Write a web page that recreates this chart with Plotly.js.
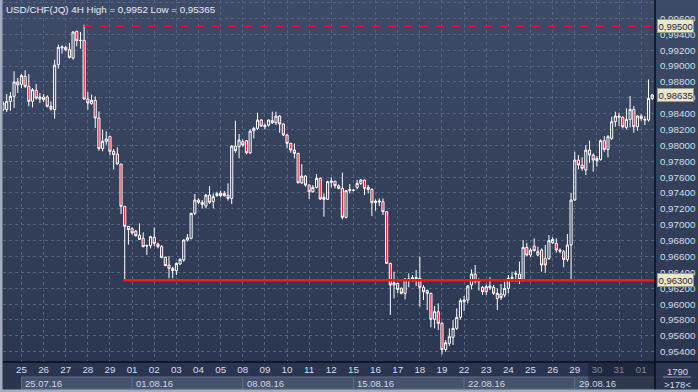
<!DOCTYPE html>
<html>
<head>
<meta charset="utf-8">
<script src="https://cdn.plot.ly/plotly-3.0.1.min.js"></script>
<style>
html,body{margin:0;padding:0;background:#2e3853;}
#chart{width:698px;height:392px;background:linear-gradient(to bottom,#3e4b68 0%,#344059 50%,#2a3450 100%);}
</style>
</head>
<body>
<div id="chart"></div>
<script>
// ---- data (USD/CHF 4H candles) ----
const opens = [0.98450,0.98450,0.98555,0.98618,0.98799,0.98770,0.98870,0.98744,0.98555,0.98694,0.98584,0.98610,0.98610,0.98492,0.98450,0.99017,0.99227,0.99235,0.99206,0.99101,0.99437,0.99319,0.99323,0.98584,0.98526,0.98568,0.98345,0.97959,0.98051,0.98114,0.97925,0.97891,0.97765,0.97232,0.96980,0.96951,0.96920,0.96870,0.96828,0.96731,0.96736,0.96841,0.96757,0.96723,0.96589,0.96492,0.96450,0.96421,0.96505,0.96555,0.96807,0.96828,0.97143,0.97311,0.97282,0.97235,0.97374,0.97290,0.97366,0.97395,0.97395,0.97374,0.97332,0.97991,0.97983,0.98046,0.98059,0.97907,0.98185,0.98214,0.98319,0.98235,0.98256,0.98285,0.98285,0.98369,0.98269,0.98130,0.98025,0.97941,0.97899,0.97529,0.97613,0.97500,0.97416,0.97471,0.97584,0.97345,0.97320,0.97534,0.97550,0.97492,0.97458,0.97093,0.97429,0.97437,0.97471,0.97521,0.97563,0.97471,0.97445,0.97277,0.97286,0.97290,0.97164,0.96513,0.96240,0.96261,0.96198,0.96135,0.96303,0.96316,0.96320,0.96324,0.96211,0.96169,0.96135,0.95807,0.95904,0.95757,0.95427,0.95505,0.95581,0.95694,0.95833,0.96030,0.96051,0.96240,0.96379,0.96282,0.96211,0.96156,0.96227,0.96211,0.96072,0.96127,0.96114,0.96198,0.96324,0.96374,0.96379,0.96303,0.96715,0.96618,0.96731,0.96618,0.96681,0.96576,0.96576,0.96773,0.96765,0.96681,0.96660,0.96563,0.96744,0.97311,0.97815,0.97752,0.97689,0.97941,0.97878,0.97836,0.97823,0.98059,0.97949,0.98088,0.98298,0.98353,0.98353,0.98227,0.98327,0.98453,0.98235,0.98369,0.98319,0.98319,0.98592];
const highs = [0.98555,0.98647,0.98673,0.98933,0.98849,0.98899,0.98946,0.98899,0.98723,0.98773,0.98660,0.98647,0.98631,0.98555,0.99080,0.99269,0.99261,0.99256,0.99290,0.99437,0.99445,0.99429,0.99520,0.98673,0.98639,0.98618,0.98429,0.98198,0.98177,0.98114,0.97954,0.97975,0.97765,0.97232,0.96980,0.96967,0.96933,0.97017,0.96904,0.96744,0.96862,0.96967,0.96773,0.96744,0.96597,0.96605,0.96471,0.96526,0.96576,0.96815,0.96883,0.97151,0.97387,0.97332,0.97311,0.97387,0.97487,0.97395,0.97416,0.97429,0.97425,0.97521,0.98004,0.98311,0.98143,0.98075,0.98067,0.98201,0.98235,0.98411,0.98332,0.98277,0.98327,0.98424,0.98424,0.98382,0.98277,0.98143,0.98033,0.98025,0.97907,0.97765,0.97626,0.97508,0.97500,0.97639,0.97597,0.97395,0.97555,0.97597,0.97550,0.97508,0.97655,0.97437,0.97513,0.97445,0.97563,0.97576,0.97571,0.97500,0.97458,0.97319,0.97332,0.97332,0.97172,0.96521,0.96408,0.96269,0.96211,0.96324,0.96387,0.96366,0.96429,0.96597,0.96240,0.96185,0.96143,0.95975,0.96009,0.95778,0.95547,0.95694,0.95799,0.95946,0.96072,0.96101,0.96240,0.96437,0.96492,0.96324,0.96227,0.96248,0.96337,0.96240,0.96198,0.96253,0.96282,0.96366,0.96408,0.96421,0.96534,0.96807,0.96773,0.96702,0.96828,0.96723,0.96702,0.96744,0.96870,0.96841,0.96828,0.96702,0.96681,0.96883,0.97403,0.97920,0.97878,0.97849,0.98004,0.98059,0.97899,0.97865,0.98075,0.98117,0.98130,0.98361,0.98424,0.98411,0.98369,0.98466,0.98621,0.98495,0.98382,0.98395,0.98369,0.98831,0.98647];
const lows = [0.98429,0.98421,0.98437,0.98471,0.98660,0.98720,0.98723,0.98492,0.98479,0.98576,0.98534,0.98547,0.98479,0.98437,0.98337,0.98967,0.99156,0.99185,0.99093,0.99080,0.99248,0.99219,0.98576,0.98450,0.98513,0.98219,0.97933,0.97925,0.98009,0.97875,0.97694,0.97757,0.97135,0.96300,0.96749,0.96875,0.96849,0.96807,0.96715,0.96618,0.96702,0.96731,0.96702,0.96576,0.96479,0.96324,0.96324,0.96366,0.96492,0.96534,0.96786,0.96815,0.97122,0.97261,0.97206,0.97206,0.97261,0.97206,0.97353,0.97345,0.97353,0.97303,0.97261,0.97907,0.97836,0.97983,0.97886,0.97891,0.98088,0.98193,0.98235,0.98201,0.98235,0.98269,0.98256,0.98159,0.98117,0.97962,0.97907,0.97836,0.97521,0.97513,0.97479,0.97324,0.97403,0.97458,0.97311,0.97101,0.97311,0.97471,0.97458,0.97445,0.97067,0.97080,0.97395,0.97420,0.97445,0.97500,0.97374,0.97395,0.97109,0.97177,0.97235,0.97122,0.96505,0.95862,0.96072,0.96135,0.96122,0.96059,0.96211,0.96282,0.96227,0.95967,0.96051,0.95925,0.95707,0.95694,0.95673,0.95365,0.95400,0.95471,0.95484,0.95673,0.95807,0.95912,0.96009,0.96185,0.96261,0.96169,0.96114,0.96114,0.96177,0.96114,0.95925,0.96051,0.96085,0.96135,0.96282,0.96282,0.96253,0.96282,0.96605,0.96589,0.96660,0.96605,0.96408,0.96395,0.96555,0.96757,0.96647,0.96639,0.96463,0.96534,0.96300,0.97303,0.97697,0.97681,0.97626,0.97781,0.97668,0.97731,0.97807,0.97920,0.97849,0.98067,0.98235,0.98243,0.98214,0.98201,0.98227,0.98159,0.98185,0.98311,0.98256,0.98298,0.98571];
const closes = [0.98534,0.98555,0.98618,0.98799,0.98760,0.98878,0.98744,0.98555,0.98702,0.98597,0.98610,0.98576,0.98492,0.98458,0.99009,0.99235,0.99240,0.99206,0.99109,0.99429,0.99319,0.99323,0.98584,0.98534,0.98568,0.98345,0.97959,0.98051,0.98080,0.97925,0.97883,0.97765,0.97232,0.96980,0.96938,0.96896,0.96862,0.96815,0.96723,0.96740,0.96849,0.96765,0.96723,0.96589,0.96484,0.96450,0.96421,0.96513,0.96563,0.96807,0.96836,0.97143,0.97311,0.97282,0.97256,0.97374,0.97282,0.97353,0.97391,0.97366,0.97366,0.97332,0.97991,0.97933,0.98067,0.98004,0.97907,0.98180,0.98214,0.98319,0.98243,0.98252,0.98319,0.98311,0.98369,0.98269,0.98130,0.98025,0.97941,0.97899,0.97529,0.97613,0.97500,0.97416,0.97471,0.97584,0.97324,0.97320,0.97542,0.97550,0.97492,0.97458,0.97093,0.97429,0.97445,0.97433,0.97521,0.97563,0.97458,0.97445,0.97277,0.97298,0.97298,0.97164,0.96513,0.96240,0.96269,0.96185,0.96135,0.96316,0.96316,0.96332,0.96337,0.96211,0.96156,0.96135,0.95807,0.95904,0.95757,0.95427,0.95513,0.95589,0.95694,0.95833,0.96043,0.96051,0.96227,0.96379,0.96282,0.96295,0.96156,0.96219,0.96206,0.96135,0.96135,0.96080,0.96198,0.96324,0.96337,0.96387,0.96311,0.96715,0.96618,0.96681,0.96673,0.96660,0.96492,0.96492,0.96799,0.96815,0.96681,0.96668,0.96563,0.96744,0.97311,0.97815,0.97752,0.97710,0.97941,0.97878,0.97815,0.97807,0.98059,0.97949,0.98109,0.98298,0.98369,0.98369,0.98235,0.98327,0.98453,0.98235,0.98369,0.98340,0.98327,0.98592,0.98635];

const dayLabels  = ['25','26','27','28','29','01','02','03','04','05','08','09','10','11','12','15','16','17','18','19','22','23','24','25','26','29','30','31','01'];
const weekLabels = ['25.07.16','01.08.16','08.08.16','15.08.16','22.08.16','29.08.16'];
const titleText  = 'USD/CHF(JQ) 4H High = 0,9952 Low = 0,95365';
const resistanceLevel = 0.995;   // dashed red
const supportLevel    = 0.963;   // solid red
const lastPrice       = 0.98635;
const barsTotal = '1790';
const barsVisible = '>178<';

// ---- layout helpers ----
const W = 698, H = 392, ML = 3, MR = 43, MT = 0, MB = 30;
const PW = W - ML - MR, PH = H - MT - MB;
const px = v => (v - ML) / PW;            // pixel x -> paper x
const py = v => (H - MB - v) / PH;        // pixel y (from top) -> paper y
const BARS_PER_DAY = 6, FIRST_DAY = 5;
const xIdx = opens.map((_, i) => i);
const xMax = 176.75;
const dayTicks = dayLabels.map((_, k) => FIRST_DAY + k * BARS_PER_DAY);
const weekStarts = weekLabels.map((_, k) => dayTicks[k * 5]);
const fmt = v => v.toFixed(5).replace('.', ',');
const FONT = 'Liberation Sans, Arial, sans-serif';

const trace = {
  type: 'candlestick', x: xIdx, open: opens, high: highs, low: lows, close: closes,
  increasing: {line: {color: '#ffffff', width: 1}, fillcolor: 'rgba(0,0,0,0)'},
  decreasing: {line: {color: '#ffffff', width: 1}, fillcolor: '#e3122c'},
  whiskerwidth: 0, hoverinfo: 'skip', showlegend: false
};

const shapes = [];
// bottom strip background
shapes.push({type: 'rect', xref: 'paper', yref: 'paper', x0: px(3), x1: px(698), y0: py(362), y1: py(390),
  fillcolor: '#2b3550', line: {width: 0}, layer: 'below'});
// week boxes
weekStarts.forEach((s, k) => {
  const e = k < weekStarts.length - 1 ? weekStarts[k + 1] : xMax;
  shapes.push({type: 'rect', xref: 'x', yref: 'paper', x0: s, x1: e, y0: py(389), y1: py(377),
    fillcolor: '#46526c', line: {color: '#5f6b86', width: 1}, layer: 'below'});
});
// red levels
shapes.push({type: 'line', xref: 'x', yref: 'y', x0: 22, x1: xMax, y0: resistanceLevel, y1: resistanceLevel,
  line: {color: '#d0182c', width: 1.5, dash: '8px,8px'}});
shapes.push({type: 'line', xref: 'x', yref: 'y', x0: 32.6, x1: xMax, y0: supportLevel, y1: supportLevel,
  line: {color: '#ff1414', width: 2.5}});
// dark overlay at right of time scale
shapes.push({type: 'rect', xref: 'paper', yref: 'paper', x0: px(588), x1: 1, y0: py(389), y1: py(363),
  fillcolor: 'rgba(18,24,40,0.45)', line: {width: 0}, layer: 'above'});
// separators
shapes.push({type: 'line', xref: 'paper', yref: 'paper', x0: px(3), x1: px(698), y0: 0, y1: 0,
  line: {color: '#0a0e18', width: 1.5}, layer: 'above'});
shapes.push({type: 'line', xref: 'paper', yref: 'paper', x0: 1, x1: 1, y0: py(390), y1: 1,
  line: {color: '#0a0e18', width: 1.5}, layer: 'above'});
// corner divider
shapes.push({type: 'line', xref: 'paper', yref: 'paper', x0: px(663), x1: px(691), y0: py(377), y1: py(377),
  line: {color: '#8a96ac', width: 1}, layer: 'above'});
// window frame
shapes.push({type: 'rect', xref: 'paper', yref: 'paper', x0: px(0), x1: px(2.5), y0: py(392), y1: py(0),
  fillcolor: '#a3adbf', line: {width: 0}, layer: 'above'});
shapes.push({type: 'rect', xref: 'paper', yref: 'paper', x0: px(0), x1: px(698), y0: py(392), y1: py(389.5),
  fillcolor: '#a3adbf', line: {width: 0}, layer: 'above'});

const annotations = [];
annotations.push({xref: 'paper', yref: 'paper', x: px(4), y: py(2), xanchor: 'left', yanchor: 'top',
  text: titleText, showarrow: false, font: {family: FONT, size: 9.8, color: '#e8edf6'}});
weekLabels.forEach((w, k) => annotations.push({xref: 'x', yref: 'paper', x: weekStarts[k], y: py(383.5),
  xanchor: 'left', yanchor: 'middle', xshift: 2, text: w, showarrow: false,
  font: {family: FONT, size: 9.5, color: '#d0d7e4'}}));
[resistanceLevel, lastPrice, supportLevel].forEach(v => annotations.push({xref: 'paper', yref: 'y', x: 1, y: v,
  xanchor: 'left', yanchor: 'middle', xshift: 2, text: fmt(v), showarrow: false,
  bgcolor: '#e9e7cc', bordercolor: '#9c9a80', borderwidth: 1, borderpad: 0.5,
  font: {family: FONT, size: 9.5, color: '#1d2436'}}));
annotations.push({xref: 'paper', yref: 'paper', x: px(677), y: py(371), xanchor: 'center', yanchor: 'middle',
  text: barsTotal, showarrow: false, font: {family: FONT, size: 9.5, color: '#d4dbe8'}});
annotations.push({xref: 'paper', yref: 'paper', x: px(677), y: py(384), xanchor: 'center', yanchor: 'middle',
  text: barsVisible, showarrow: false, font: {family: FONT, size: 9.5, color: '#d4dbe8'}});

const layout = {
  width: W, height: H, margin: {l: ML, r: MR, t: MT, b: MB, pad: 0},
  paper_bgcolor: 'rgba(0,0,0,0)', plot_bgcolor: 'rgba(0,0,0,0)',
  separators: ',.', showlegend: false, boxgap: 0.18,
  xaxis: {type: 'linear', range: [0, xMax], tickmode: 'array', tickvals: dayTicks, ticktext: dayLabels,
    showgrid: true, gridcolor: '#56637f', griddash: '3px,3px', gridwidth: 1, zeroline: false, showline: false,
    ticks: '', tickfont: {family: FONT, size: 9.8, color: '#d6dde9'}, rangeslider: {visible: false}, fixedrange: true},
  yaxis: {side: 'right', range: [0.95270, 0.99832], tick0: 0.954, dtick: 0.002, tickformat: '.5f',
    showgrid: true, gridcolor: '#56637f', griddash: '3px,3px', gridwidth: 1, zeroline: false, showline: false,
    ticks: 'outside', ticklen: 2, tickcolor: 'rgba(0,0,0,0)',
    tickfont: {family: FONT, size: 9.8, color: '#d6dde9'}, fixedrange: true},
  shapes: shapes, annotations: annotations
};

Plotly.newPlot('chart', [trace], layout, {displayModeBar: false, staticPlot: true});
</script>
</body>
</html>
